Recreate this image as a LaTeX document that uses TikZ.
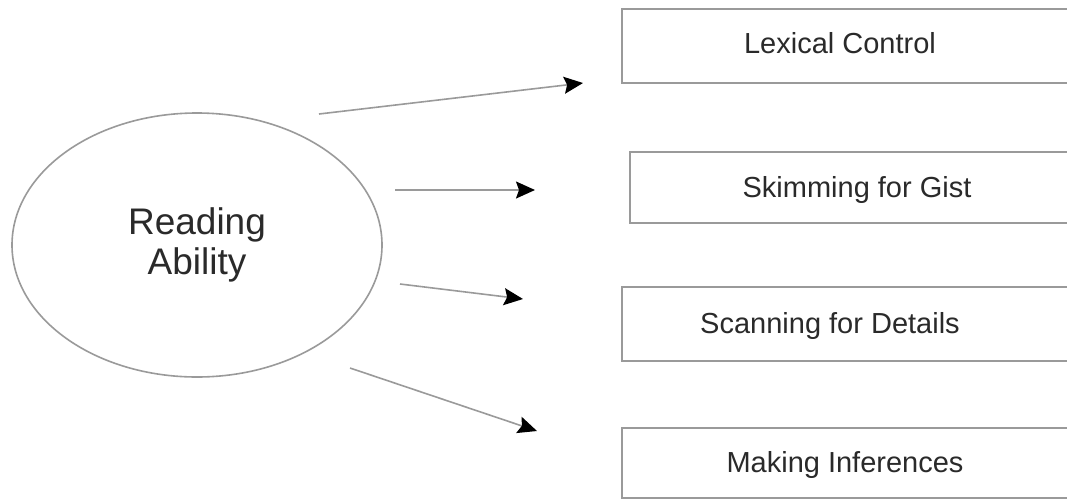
\documentclass[tikz,border=0pt]{standalone}
\usepackage{fontspec}
\setmainfont{Liberation Sans}
\usetikzlibrary{shapes.geometric,arrows.meta}
\definecolor{linegray}{HTML}{9A9A9A}
\definecolor{textgray}{HTML}{2A2A2A}
\begin{document}
\begin{tikzpicture}[x=1pt,y=-1pt,
  conn/.style={draw=linegray, line width=1.6pt, -{Stealth[length=19pt,width=17pt,inset=3pt,color=black]}},
  stepbox/.style={draw=none, rectangle, inner sep=0pt},
  boxline/.style={draw=linegray, line width=2.2pt},
  oval/.style={draw=linegray, line width=1.6pt, ellipse, inner sep=0pt, minimum width=370pt, minimum height=264pt, align=center, text=textgray, font=\fontsize{37}{40}\selectfont},
  lbl/.style={anchor=base, inner sep=0pt, text=textgray, font=\fontsize{29}{34}\selectfont}]
\useasboundingbox (0,0) rectangle (1067,499);
\clip (0,0) rectangle (1067,499);
\fill[white] (0,0) rectangle (1067,499);

% central ellipse
\node[oval] (ra) at (197,245) {Reading\\Ability};

% boxes (their right side runs off the picture)
\node[stepbox, minimum width=468pt, minimum height=74pt] (b1) at (856,46) {};
\node[stepbox, minimum width=460pt, minimum height=71pt] (b2) at (860,187.5) {};
\node[stepbox, minimum width=468pt, minimum height=74pt] (b3) at (856,324) {};
\node[stepbox, minimum width=468pt, minimum height=70pt] (b4) at (856,463) {};
\foreach \b in {b1,b2,b3,b4}{
  \draw[boxline] (\b.north east) -- (\b.north west) -- (\b.south west) -- (\b.south east);
}

% box labels
\node[lbl] (t1) at (840,53) {Lexical Control};
\node[lbl] (t2) at (857,197) {Skimming for Gist};
\node[lbl] (t3) at (830,333) {Scanning for Details};
\node[lbl] (t4) at (845,472) {Making Inferences};

% arrow end points
\coordinate (s1) at (319,114); \coordinate (e1) at (583,83);
\coordinate (s2) at (395,190); \coordinate (e2) at (535,190);
\coordinate (s3) at (400,284); \coordinate (e3) at (523,299);
\coordinate (s4) at (350,368); \coordinate (e4) at (537,431);

\draw[conn] (s1) -- (e1);
\draw[conn] (s2) -- (e2);
\draw[conn] (s3) -- (e3);
\draw[conn] (s4) -- (e4);
\end{tikzpicture}
\end{document}
